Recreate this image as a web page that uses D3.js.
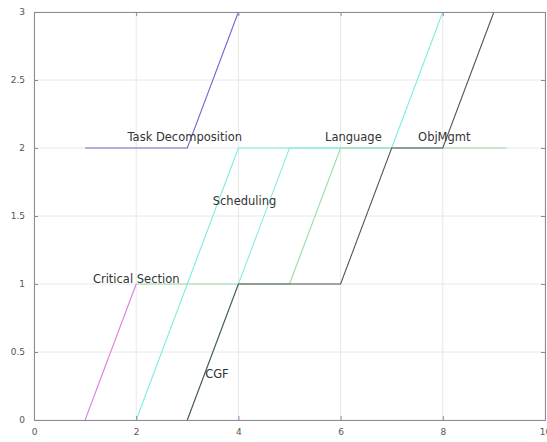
<!DOCTYPE html>
<html>
<head>
<meta charset="utf-8">
<script src="https://cdn.jsdelivr.net/npm/d3@7"></script>
<style>
  body { margin: 0; background: #fff; }
  svg { display: block; }
  .tick text { fill: #555; font-family: "DejaVu Sans", sans-serif; font-size: 9px; }
  .label { fill: #333; font-family: "DejaVu Sans", sans-serif; font-size: 11.5px; }
</style>
</head>
<body>
<div id="canvas"></div>
<script>
// tick labels
var xTicks = [0, 2, 4, 6, 8, 10];
var yTicks = [0, 0.5, 1, 1.5, 2, 2.5, 3];

// each topic is a stair line: [x, y] points
var seriesNames = ["Scheduling2", "Scheduling", "Language", "Critical Section", "Task Decomposition", "CGF"];
var seriesColors = ["#86eee2", "#7aeee0", "#98dca8", "#dd80dd", "#6a6ad2", "#555555"];
var seriesPoints = [
  [[3, 0], [4, 1], [5, 2], [6, 2]],
  [[2, 0], [4, 2], [7, 2], [8, 3]],
  [[2, 1], [5, 1], [6, 2], [9.25, 2]],
  [[1, 0], [2, 1]],
  [[1, 2], [3, 2], [4, 3]],
  [[3, 0], [4, 1], [6, 1], [7, 2], [8, 2], [9, 3]]
];

// text annotations
var labelTexts = ["Task Decomposition", "Language", "ObjMgmt", "Scheduling", "Critical Section", "CGF"];
var labelX = [2.95, 6.25, 8.03, 4.12, 2.0, 3.58];
var labelY = [2.05, 2.05, 2.05, 1.58, 1.01, 0.31];

function drawChart() {
  var width = 547, height = 442;
  var left = 34, right = 545, top = 12, bottom = 420;

  var svg = d3.select("#canvas").append("svg").attr("width", width).attr("height", height);

  var x = d3.scaleLinear().domain([0, 10]).range([left, right]);
  var y = d3.scaleLinear().domain([0, 3]).range([bottom, top]);

  // grid
  svg.append("g").selectAll("line.vgrid")
    .data(xTicks)
    .enter().append("line")
    .attr("x1", d => x(d)).attr("x2", d => x(d))
    .attr("y1", top).attr("y2", bottom)
    .attr("stroke", "#e8e8e8").attr("stroke-width", 1);
  svg.append("g").selectAll("line.hgrid")
    .data(yTicks)
    .enter().append("line")
    .attr("x1", left).attr("x2", right)
    .attr("y1", d => y(d)).attr("y2", d => y(d))
    .attr("stroke", "#e8e8e8").attr("stroke-width", 1);

  // lines
  var line = d3.line().x(d => x(d[0])).y(d => y(d[1]));
  svg.append("g").selectAll("path.topic")
    .data(seriesPoints)
    .enter().append("path")
    .attr("class", "topic")
    .attr("d", d => line(d))
    .attr("fill", "none")
    .attr("stroke", (d, i) => seriesColors[i])
    .attr("stroke-width", 1.1);

  // axes
  var xAxis = svg.append("g").attr("transform", "translate(0," + bottom + ")")
    .call(d3.axisBottom(x).tickValues(xTicks).tickSize(-4).tickPadding(9).tickFormat(d3.format("d")));
  var yAxis = svg.append("g").attr("transform", "translate(" + left + ",0)")
    .call(d3.axisLeft(y).tickValues(yTicks).tickSize(-4).tickPadding(9).tickFormat(d => d));
  var xTop = svg.append("g").attr("transform", "translate(0," + top + ")")
    .call(d3.axisTop(x).tickValues(xTicks).tickSize(-4).tickFormat(""));
  var yRight = svg.append("g").attr("transform", "translate(" + right + ",0)")
    .call(d3.axisRight(y).tickValues(yTicks).tickSize(-4).tickFormat(""));
  [xAxis, yAxis, xTop, yRight].forEach(g => {
    g.select(".domain").attr("stroke", "#8a8a9a");
    g.selectAll(".tick line").attr("stroke", "#8a8a9a");
  });

  // annotations
  svg.append("g").selectAll("text.label")
    .data(labelTexts)
    .enter().append("text")
    .attr("class", "label")
    .attr("x", (d, i) => x(labelX[i]))
    .attr("y", (d, i) => y(labelY[i]))
    .attr("text-anchor", "middle")
    .text(d => d);
}

drawChart();
</script>
</body>
</html>
